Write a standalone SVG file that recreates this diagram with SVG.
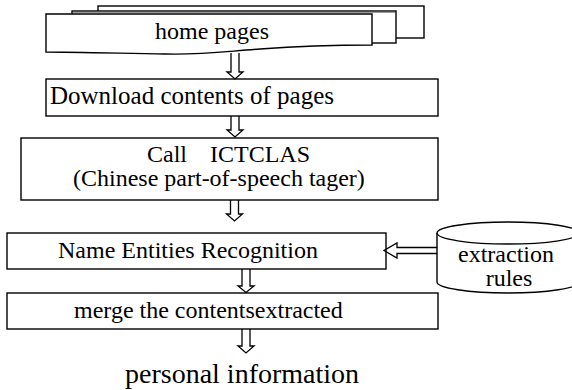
<svg xmlns="http://www.w3.org/2000/svg" width="572" height="390" viewBox="0 0 572 390">
  <style>
    .box { fill: #ffffff; stroke: #000000; stroke-width: 1.4; }
    .arrow { fill: none; stroke: #000000; stroke-width: 1.3; stroke-linejoin: miter; }
    .label { font-family: "Liberation Serif", "Times New Roman", serif; font-size: 24px; fill: #000000; }
    .big { font-size: 28px; }
  </style>
  <rect width="572" height="390" fill="#ffffff"/>

  <!-- stack of home pages -->
  <g id="home-pages">
    <rect class="box" x="98" y="6" width="326" height="32"/>
    <rect class="box" x="72" y="11" width="324" height="32"/>
    <line x1="73" y1="12.5" x2="395" y2="12.5" stroke="#9a9a9a" stroke-width="1"/>
    <path class="box" d="M46,14 H372 V45 C340,45 300,46 260,49 C220,52 200,55 165,54 C110,53 70,52 46,52 Z"/>
    <text class="label" x="212" y="39" text-anchor="middle">home pages</text>
  </g>

  <g id="download">
    <rect class="box" x="46" y="79" width="392" height="37"/>
    <text class="label" x="50" y="104" style="font-size:25px">Download contents of pages</text>
  </g>

  <g id="ictclas">
    <rect class="box" x="21" y="138" width="417" height="62"/>
    <text class="label" x="147" y="162">Call</text>
    <text class="label" x="210" y="162">ICTCLAS</text>
    <text class="label" x="73" y="186">(Chinese part-of-speech tager)</text>
  </g>

  <g id="ner">
    <rect class="box" x="7" y="233" width="379" height="36"/>
    <text class="label" x="58" y="258">Name Entities Recognition</text>
  </g>

  <g id="merge">
    <rect class="box" x="7" y="293" width="431" height="36"/>
    <text class="label" x="74" y="318">merge the contentsextracted</text>
  </g>

  <g id="extraction-rules">
    <path class="box" d="M437,233 V282 A71,11 0 0 0 579,282 V233 A71,11 0 0 0 437,233 Z"/>
    <path class="arrow" d="M437,233 A71,11 0 0 0 579,233"/>
    <text class="label" x="506" y="262" text-anchor="middle">extraction</text>
    <text class="label" x="509" y="286" text-anchor="middle">rules</text>
  </g>

  <g id="result">
    <text class="label big" x="125" y="383">personal information</text>
  </g>

  <!-- hollow block arrows -->
  <g id="connectors">
    <path class="arrow" d="M231,53 V72 H227 L235,79 L243,72 H239 V53"/>
    <path class="arrow" d="M231,116 V130 H227 L235,137 L243,130 H239 V116"/>
    <path class="arrow" d="M230.5,200 V214 H226.5 L234.5,221 L242.5,214 H238.5 V200"/>
    <path class="arrow" d="M242,269 V286 H238 L246,292.5 L254,286 H250 V269"/>
    <path class="arrow" d="M242,329 V346 H238 L246,353 L254,346 H250 V329"/>
    <path class="arrow" d="M437,247.5 H397 V243 L384,250.5 L397,258 V253.5 H437"/>
  </g>
</svg>
